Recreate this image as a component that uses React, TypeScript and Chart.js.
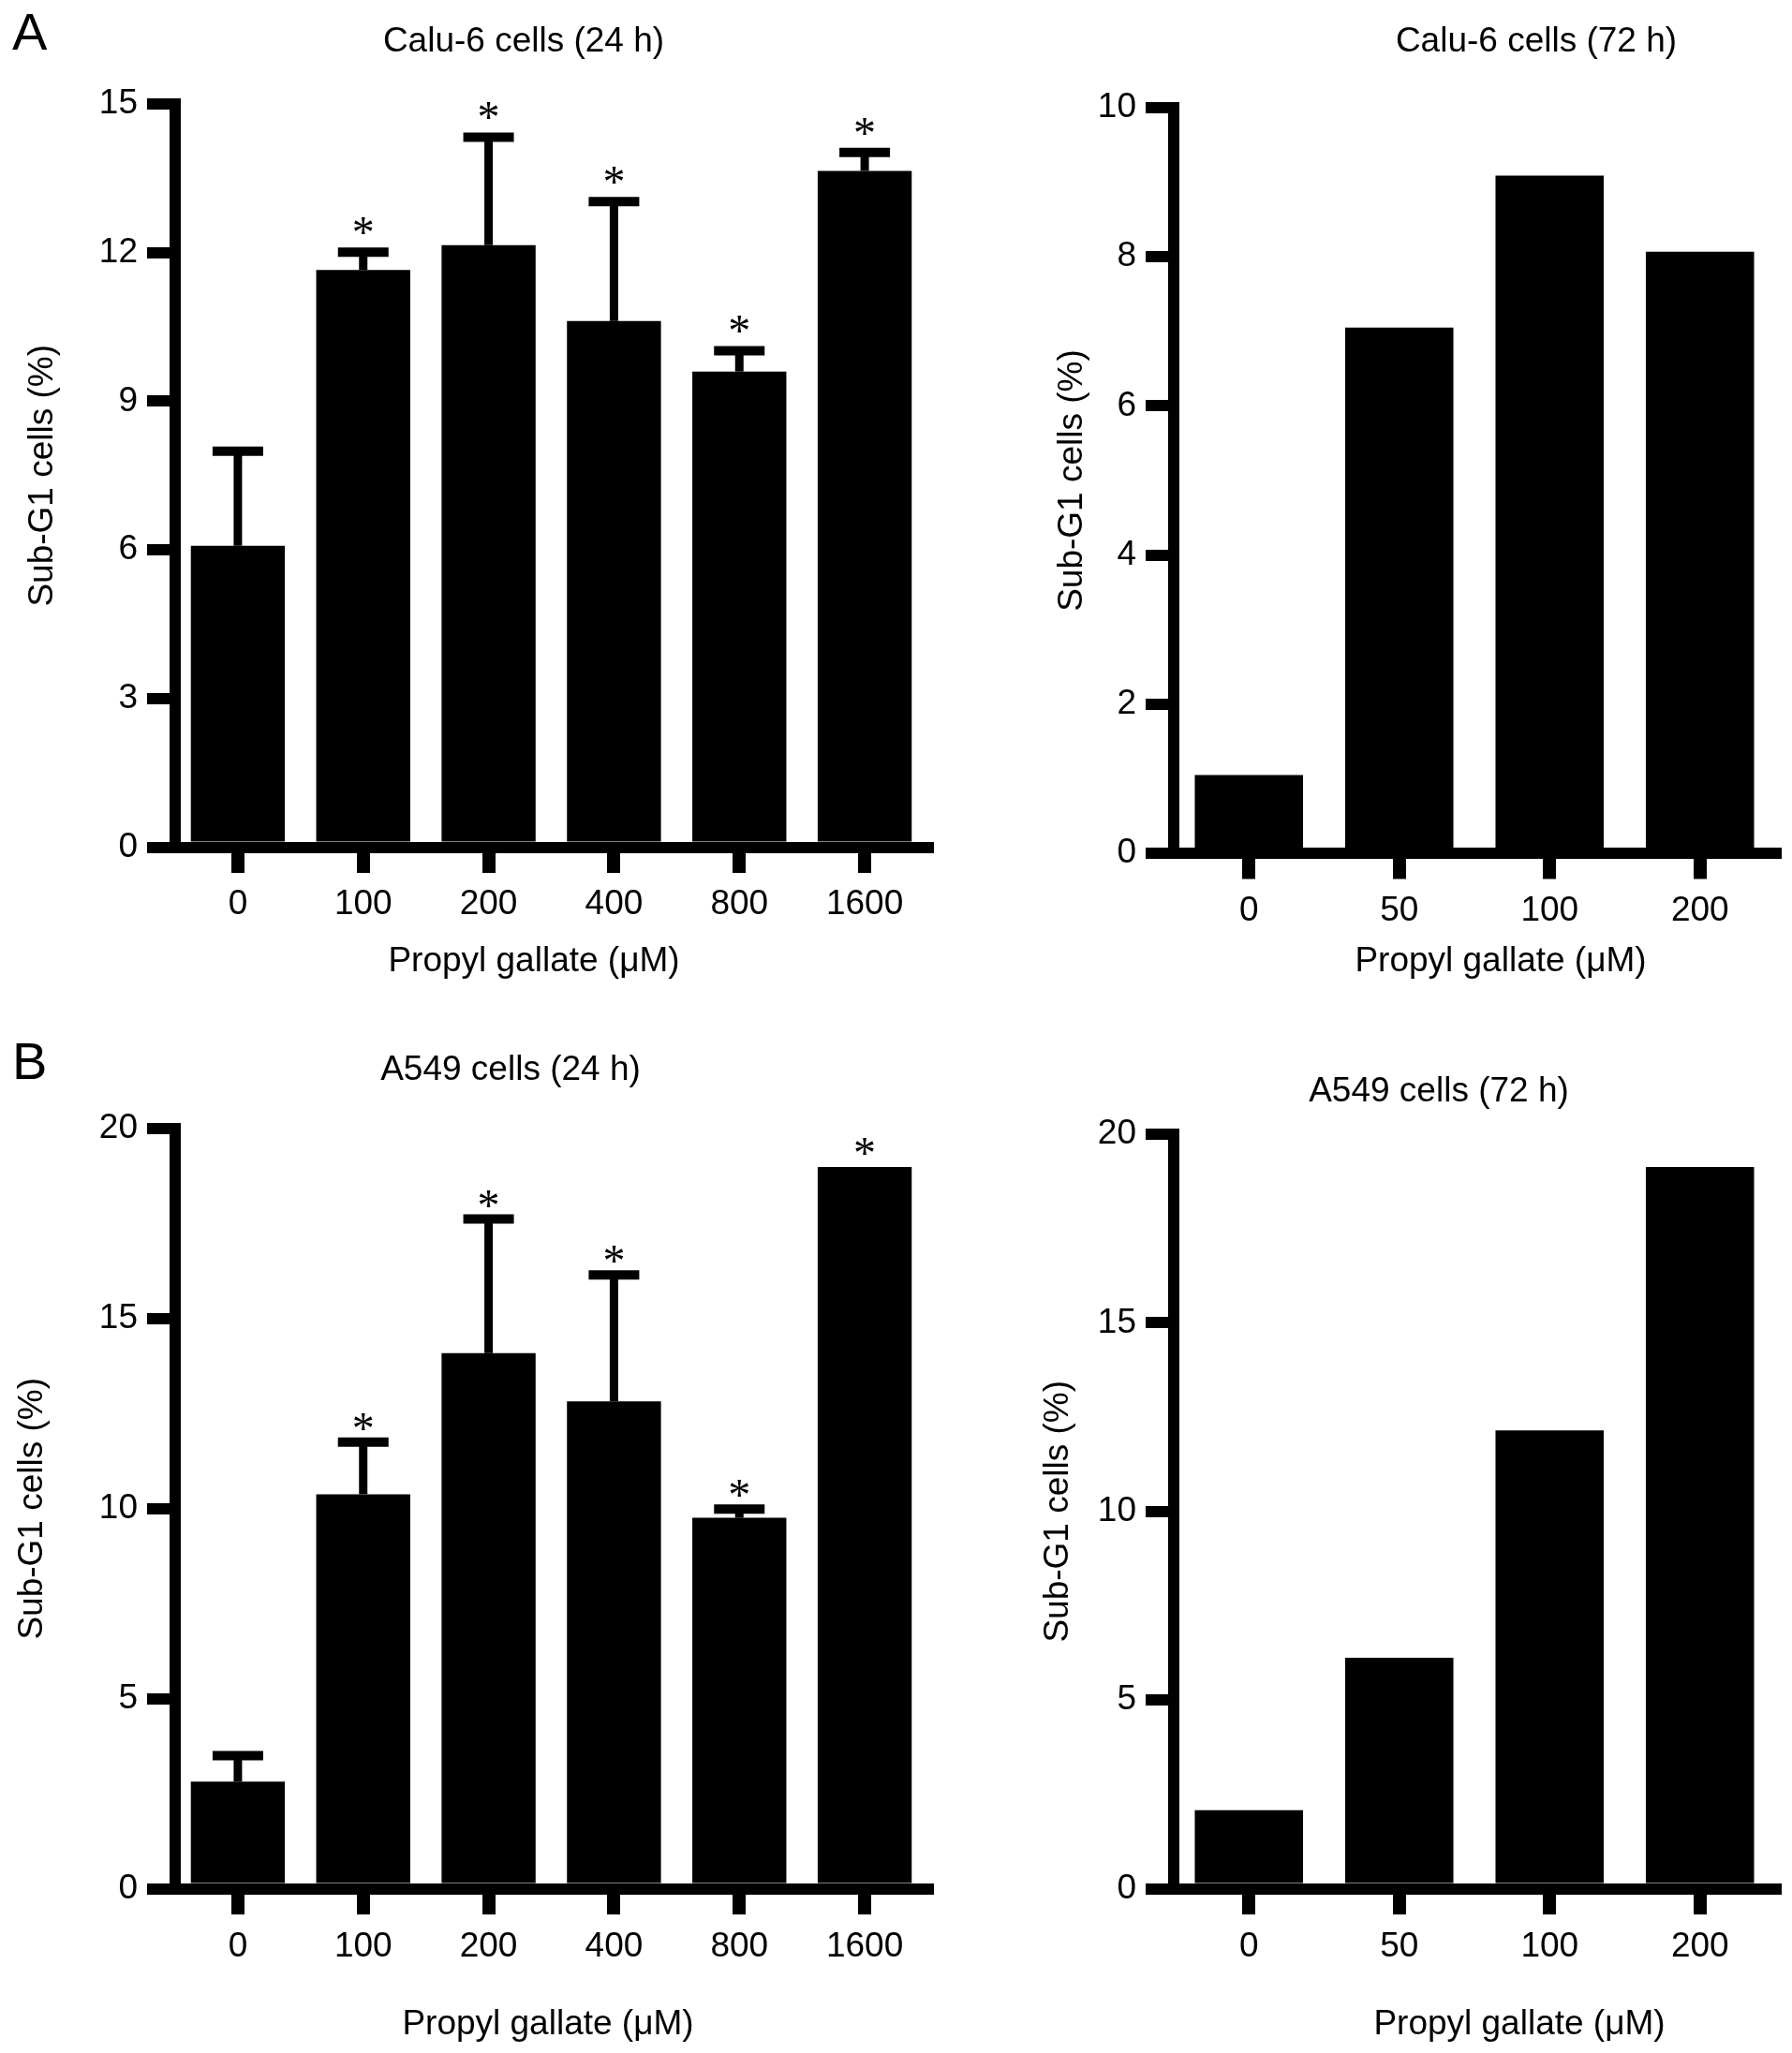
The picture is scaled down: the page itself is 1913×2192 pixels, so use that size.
import { useEffect, useRef } from 'react';
import { Chart, registerables } from 'chart.js';

Chart.register(...registerables);

const FONT = "'Liberation Sans', Arial, Helvetica, sans-serif";
const STAR_FONT = "48px 'Liberation Serif', 'Times New Roman', serif";

// Calu-6 cells, 24 h
const calu24Doses = ['0', '100', '200', '400', '800', '1600'];
const calu24Values = [6.08, 11.65, 12.15, 10.62, 9.6, 13.65];
const calu24Sd = [1.91, 0.36, 2.18, 2.41, 0.42, 0.37];
const calu24Sig = [false, true, true, true, true, true];

// Calu-6 cells, 72 h
const calu72Doses = ['0', '50', '100', '200'];
const calu72Values = [1.05, 7.05, 9.09, 8.07];

// A549 cells, 24 h
const a549d24Doses = ['0', '100', '200', '400', '800', '1600'];
const a549d24Values = [2.82, 10.38, 14.09, 12.82, 9.76, 18.99];
const a549d24Sd = [0.68, 1.37, 3.53, 3.33, 0.23, 0];
const a549d24Sig = [false, true, true, true, true, true];

// A549 cells, 72 h
const a549d72Doses = ['0', '50', '100', '200'];
const a549d72Values = [2.08, 6.12, 12.15, 19.13];

// y axis ranges [max, step]
const calu24Axis = [15, 3];
const calu72Axis = [10, 2];
const a549Axis = [20, 5];

const Y_TITLE = 'Sub-G1 cells (%)';
const X_TITLE = 'Propyl gallate (\u03bcM)';

type Caption = {
    text: string,
    x: number,
    y: number,
    size?: number,
    align?: CanvasTextAlign,
    baseline?: CanvasTextBaseline
};

type PanelProps = {
    x0: number, y0: number, w: number, h: number,
    labels: string[],
    values: number[],
    sd?: number[],
    sig?: boolean[],
    axis: number[],
    pad: { left: number, top: number, right: number, bottom: number },
    yWidth: number,
    barPct: number,
    starGap: number,
    captions: Caption[]
};

function BarPanel(props: PanelProps) {
    const canvasRef = useRef<HTMLCanvasElement>(null);
    const chartRef = useRef<Chart | null>(null);

    useEffect(() => {
        if (!canvasRef.current) return;
        const ctx = canvasRef.current.getContext('2d');
        if (!ctx) return;

        if (chartRef.current) chartRef.current.destroy();

        const { values, sd, sig, starGap, captions } = props;

        // one-sided SD bars and significance stars, placed from the y scale
        const errorBars = {
            id: 'errorBars',
            afterDatasetsDraw(chart: Chart) {
                if (!sd && !sig) return;
                const meta = chart.getDatasetMeta(0);
                const yScale = chart.scales.y;
                const c = chart.ctx;
                c.save();
                c.strokeStyle = '#000';
                c.fillStyle = '#000';
                meta.data.forEach((bar: any, i: number) => {
                    const e = sd ? sd[i] : 0;
                    const x = bar.x;
                    const yTop = yScale.getPixelForValue(values[i]);
                    const yErr = yScale.getPixelForValue(values[i] + e);
                    if (e > 0) {
                        c.lineWidth = 9;
                        c.beginPath();
                        c.moveTo(x, yTop);
                        c.lineTo(x, yErr);
                        c.stroke();
                        c.lineWidth = 10;
                        c.beginPath();
                        c.moveTo(x - 27, yErr);
                        c.lineTo(x + 27, yErr);
                        c.stroke();
                    }
                    if (sig && sig[i]) {
                        c.font = STAR_FONT;
                        c.textAlign = 'center';
                        c.textBaseline = 'alphabetic';
                        c.fillText('*', x, yErr - starGap + 22);
                    }
                });
                c.restore();
            }
        };

        const captionText = {
            id: 'captionText',
            afterDraw(chart: Chart) {
                const c = chart.ctx;
                c.save();
                c.fillStyle = '#000';
                captions.forEach(cap => {
                    c.font = `${cap.size ?? 37}px ${FONT}`;
                    c.textAlign = cap.align ?? 'center';
                    c.textBaseline = cap.baseline ?? 'middle';
                    c.fillText(cap.text, cap.x, cap.y);
                });
                c.restore();
            }
        };

        chartRef.current = new Chart(ctx, {
            type: 'bar',
            data: {
                labels: props.labels,
                datasets: [{
                    data: values,
                    backgroundColor: '#000',
                    borderWidth: 0,
                    barPercentage: props.barPct,
                    categoryPercentage: 1
                }]
            },
            options: {
                responsive: true,
                maintainAspectRatio: false,
                animation: false,
                layout: { padding: props.pad },
                plugins: {
                    legend: { display: false },
                    title: { display: false },
                    tooltip: { enabled: false }
                },
                scales: {
                    x: {
                        offset: true,
                        grid: {
                            offset: false,
                            drawOnChartArea: false,
                            drawTicks: true,
                            tickLength: 27.5,
                            lineWidth: 14,
                            color: '#000',
                            tickColor: '#000'
                        },
                        border: { width: 12, color: '#000' },
                        ticks: {
                            color: '#000',
                            font: { family: FONT, size: 37 },
                            padding: 12,
                            maxRotation: 0,
                            autoSkip: false
                        },
                        afterFit: (scale: any) => { scale.height = 100; }
                    },
                    y: {
                        min: 0,
                        max: props.axis[0],
                        grid: {
                            drawOnChartArea: false,
                            drawTicks: true,
                            tickLength: 30,
                            lineWidth: 12,
                            color: '#000',
                            tickColor: '#000'
                        },
                        border: { width: 12, color: '#000' },
                        ticks: {
                            stepSize: props.axis[1],
                            color: '#000',
                            font: { family: FONT, size: 37 },
                            padding: 10
                        },
                        title: {
                            display: true,
                            text: Y_TITLE,
                            color: '#000',
                            font: { family: FONT, size: 37 },
                            padding: 0
                        },
                        afterFit: (scale: any) => { scale.width = props.yWidth; }
                    }
                }
            },
            plugins: [errorBars, captionText]
        });

        return () => {
            if (chartRef.current) {
                chartRef.current.destroy();
                chartRef.current = null;
            }
        };
    }, []);

    return (
        <div style={{ position: 'absolute', left: props.x0, top: props.y0, width: props.w, height: props.h }}>
            <canvas ref={canvasRef} />
        </div>
    );
}

export default function App() {
    return (
        <div style={{ position: 'absolute', left: 0, top: 0, width: 1913, height: 2192, background: '#fff' }}>
            <BarPanel
                x0={0} y0={0} w={1000} h={1090}
                labels={calu24Doses}
                values={calu24Values}
                sd={calu24Sd}
                sig={calu24Sig}
                axis={calu24Axis}
                pad={{ left: 23.8, top: 111, right: 10, bottom: 85.5 }}
                yWidth={163.2}
                barPct={0.75}
                starGap={27}
                captions={[
                    { text: 'A', x: 13, y: 53, size: 56, align: 'left', baseline: 'alphabetic' },
                    { text: 'Calu-6 cells (24 h)', x: 559, y: 45 },
                    { text: X_TITLE, x: 570, y: 1027 }
                ]}
            />
            <BarPanel
                x0={1000} y0={0} w={913} h={1090}
                labels={calu72Doses}
                values={calu72Values}
                axis={calu72Axis}
                pad={{ left: 122.8, top: 115, right: 18, bottom: 79 }}
                yWidth={130.2}
                barPct={0.72}
                starGap={27}
                captions={[
                    { text: 'Calu-6 cells (72 h)', x: 640, y: 45 },
                    { text: X_TITLE, x: 602, y: 1027 }
                ]}
            />
            <BarPanel
                x0={0} y0={1090} w={1000} h={1102}
                labels={a549d24Doses}
                values={a549d24Values}
                sd={a549d24Sd}
                sig={a549d24Sig}
                axis={a549Axis}
                pad={{ left: 12.8, top: 115, right: 10, bottom: 75.4 }}
                yWidth={174.2}
                barPct={0.75}
                starGap={21}
                captions={[
                    { text: 'B', x: 13, y: 62, size: 56, align: 'left', baseline: 'alphabetic' },
                    { text: 'A549 cells (24 h)', x: 545, y: 53 },
                    { text: X_TITLE, x: 585, y: 1072 }
                ]}
            />
            <BarPanel
                x0={1000} y0={1090} w={913} h={1102}
                labels={a549d72Doses}
                values={a549d72Values}
                axis={a549Axis}
                pad={{ left: 107.4, top: 121, right: 18, bottom: 75.4 }}
                yWidth={145.6}
                barPct={0.72}
                starGap={21}
                captions={[
                    { text: 'A549 cells (72 h)', x: 536, y: 76 },
                    { text: X_TITLE, x: 622, y: 1072 }
                ]}
            />
        </div>
    );
}
